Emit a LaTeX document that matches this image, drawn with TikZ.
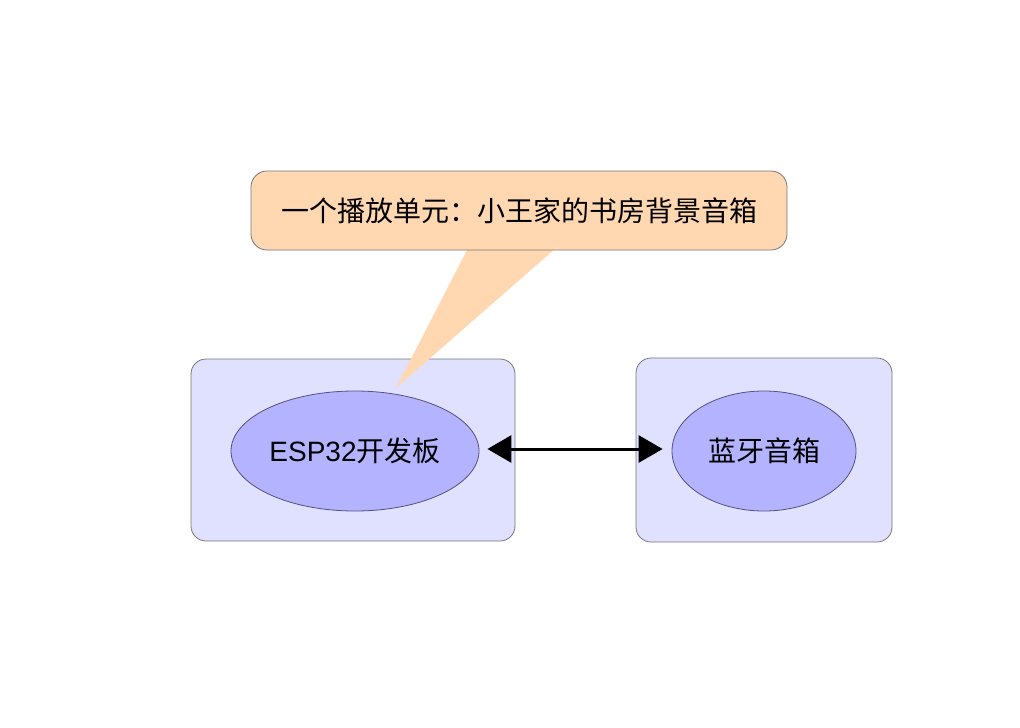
\documentclass[tikz,border=0pt]{standalone}
\usepackage{fontspec}
\setmainfont{Liberation Sans}
\newfontfamily\cjk{Noto Sans CJK SC}
\usetikzlibrary{shapes.geometric,arrows.meta}
\definecolor{peach}{HTML}{FFD8B1}
\definecolor{lav}{HTML}{E0E0FF}
\definecolor{ellfill}{HTML}{B3B3FF}
\definecolor{ellline}{HTML}{56517E}
\definecolor{boxline}{HTML}{777777}
\tikzset{
  container/.style={draw=boxline, fill=lav, line width=0.8pt, rounded corners=15pt},
  oval/.style={ellipse, draw=ellline, fill=ellfill, line width=0.8pt, inner sep=0pt},
  callout/.style={draw=boxline, fill=peach, line width=0.8pt, rounded corners=16pt},
  txt/.style={font=\fontsize{28}{33}\selectfont, text=black},
  link/.style={line width=3pt, {Triangle[length=24pt,width=27pt]}-{Triangle[length=24pt,width=27pt]}},
}
\begin{document}
\begin{tikzpicture}[x=1pt,y=-1pt]
\useasboundingbox[fill=white] (0,0) rectangle (1020,728);
% containers
\draw[container] (191,359) rectangle (515,541);
\draw[container] (636,358) rectangle (892,542);
% callout tail
\fill[peach] (468,248) -- (556,248) -- (396,388) -- cycle;
% callout box
\node[callout, minimum width=536pt, minimum height=79pt, txt, inner sep=0pt] (call) at (519,210.5) {\cjk 一个播放单元：小王家的书房背景音箱};
% ellipses
\node[oval, minimum width=248pt, minimum height=120pt, txt] (esp) at (355,451) {ESP32\cjk 开发板};
\node[oval, minimum width=184pt, minimum height=120pt, txt] (spk) at (764,451) {\cjk 蓝牙音箱};
% arrow
\draw[link] (esp.east) ++(8pt,2pt) coordinate (a) -- ([xshift=-9pt,yshift=2pt]spk.west) coordinate (b);
\end{tikzpicture}
\end{document}
